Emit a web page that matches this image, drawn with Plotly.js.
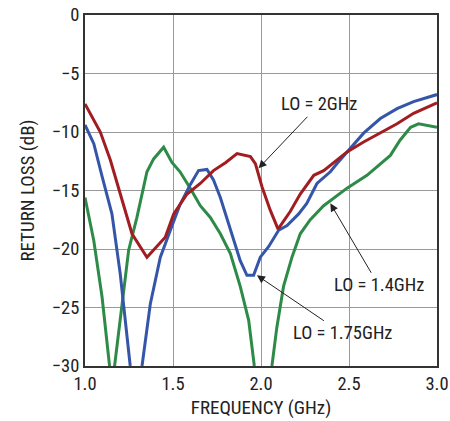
<!DOCTYPE html>
<html>
<head>
<meta charset="utf-8">
<script src="https://cdn.plot.ly/plotly-3.0.1.min.js"></script>
<style>html,body{margin:0;padding:0;background:#fff;}#chart{width:450px;height:421px;}</style>
</head>
<body>
<div id="chart"></div>
<script>
// LO = 2GHz (red)
const freqLO2 = [1.0, 1.087, 1.144, 1.2, 1.267, 1.352, 1.456, 1.504, 1.58, 1.655, 1.73, 1.80, 1.864, 1.94, 1.968, 2.006, 2.053, 2.097, 2.166, 2.223, 2.30, 2.356, 2.413, 2.489, 2.583, 2.678, 2.773, 2.867, 3.0];
const rlLO2 = [-7.6, -10.0, -12.4, -15.3, -18.7, -20.7, -19.0, -17.0, -15.3, -14.4, -13.3, -12.6, -11.85, -12.1, -12.7, -14.7, -16.7, -18.3, -16.8, -15.3, -13.7, -13.3, -12.6, -11.7, -10.85, -10.1, -9.3, -8.4, -7.5];

// LO = 1.75GHz (blue)
const freqLO175 = [1.0, 1.05, 1.097, 1.153, 1.2, 1.239, 1.257, 1.29, 1.324, 1.371, 1.428, 1.485, 1.54, 1.598, 1.645, 1.693, 1.73, 1.769, 1.826, 1.882, 1.92, 1.958, 1.996, 2.043, 2.1, 2.148, 2.214, 2.26, 2.318, 2.394, 2.432, 2.489, 2.583, 2.678, 2.773, 2.867, 3.0];
const rlLO175 = [-9.4, -11.0, -13.8, -17.0, -22.1, -27.5, -30.0, -33.0, -30.0, -24.7, -20.7, -18.4, -16.2, -14.5, -13.3, -13.2, -14.1, -15.6, -18.4, -21.0, -22.25, -22.25, -20.7, -19.8, -18.4, -18.0, -17.0, -16.1, -14.4, -13.4, -12.7, -11.7, -10.1, -8.85, -8.0, -7.4, -6.8];

// LO = 1.4GHz (green)
const freqLO14 = [1.0, 1.05, 1.097, 1.14, 1.154, 1.168, 1.21, 1.248, 1.295, 1.352, 1.39, 1.447, 1.494, 1.54, 1.598, 1.655, 1.712, 1.769, 1.826, 1.882, 1.93, 1.962, 2.012, 2.062, 2.09, 2.128, 2.176, 2.223, 2.28, 2.356, 2.489, 2.602, 2.735, 2.79, 2.85, 2.895, 3.0];
const rlLO14 = [-15.6, -19.3, -24.1, -30.0, -32.0, -30.0, -24.7, -20.1, -17.3, -13.4, -12.3, -11.3, -12.6, -13.4, -14.8, -16.3, -17.3, -18.7, -20.4, -23.2, -26.1, -30.0, -34.0, -30.0, -26.7, -23.2, -20.7, -18.7, -17.5, -16.3, -14.8, -13.7, -12.0, -10.7, -9.6, -9.3, -9.6];

const xTicks = [1.0, 1.5, 2.0, 2.5, 3.0];
const xTickText = ["1.0", "1.5", "2.0", "2.5", "3.0"];
const yTicks = [-30, -25, -20, -15, -10, -5, 0];
const yTickText = ["\u221230", "\u221225", "\u221220", "\u221215", "\u221210", "\u22125", "0"];

const labels = ["LO = 2GHz", "LO = 1.4GHz", "LO = 1.75GHz"];

const FONT = "'Liberation Sans Narrow', 'Arial Narrow', 'Roboto Condensed', 'Liberation Sans', sans-serif";

const traces = [
  {x: freqLO14, y: rlLO14, mode: "lines", line: {color: "#2e8b47", width: 3}},
  {x: freqLO175, y: rlLO175, mode: "lines", line: {color: "#3555a8", width: 3}},
  {x: freqLO2, y: rlLO2, mode: "lines", line: {color: "#a11d22", width: 3}}
];

const annArrow = {showarrow: true, arrowhead: 2, arrowsize: 1.6, arrowwidth: 1, arrowcolor: "#222",
  axref: "x", ayref: "y", xref: "x", yref: "y", font: {family: FONT, size: 18.5, color: "#222"}, bgcolor: "rgba(255,255,255,0)"};

const layout = {
  width: 450, height: 421,
  margin: {l: 85, r: 13, t: 15, b: 55},
  paper_bgcolor: "#fff", plot_bgcolor: "#fff",
  showlegend: false,
  font: {family: FONT, size: 18, color: "#222"},
  xaxis: {
    range: [1, 3], tickvals: xTicks, ticktext: xTickText,
    showgrid: true, gridcolor: "#999", gridwidth: 1,
    showline: true, mirror: true, linecolor: "#333", linewidth: 2,
    ticks: "", zeroline: false, tickfont: {family: FONT, size: 18.5, color: "#222"},
    title: {text: "FREQUENCY (GHz)", font: {family: FONT, size: 19, color: "#222"}, standoff: 6}
  },
  yaxis: {
    range: [-30, 0], tickvals: yTicks, ticktext: yTickText,
    showgrid: true, gridcolor: "#999", gridwidth: 1,
    showline: true, mirror: true, linecolor: "#333", linewidth: 2,
    ticks: "", zeroline: false, tickfont: {family: FONT, size: 18.5, color: "#222"},
    title: {text: "RETURN LOSS (dB)", font: {family: FONT, size: 19, color: "#222"}, standoff: 12}
  },
  annotations: [
    Object.assign({}, annArrow, {text: labels[0], x: 1.986, y: -13.1, ax: 2.331, ay: -7.63}),
    Object.assign({}, annArrow, {text: labels[1], x: 2.394, y: -16.1, ax: 2.668, ay: -23.1}),
    Object.assign({}, annArrow, {text: labels[2], x: 1.977, y: -22.25, ax: 2.462, ay: -27.2})
  ]
};

Plotly.newPlot("chart", traces, layout, {displayModeBar: false, staticPlot: true});
</script>
</body>
</html>
